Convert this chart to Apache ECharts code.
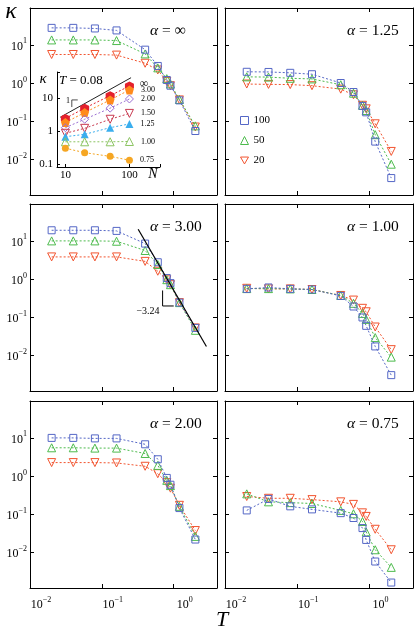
<!DOCTYPE html>
<html>
<head>
<meta charset="utf-8">
<script src="https://cdn.jsdelivr.net/npm/echarts@6/dist/echarts.min.js"></script>
<style>
html, body { margin: 0; padding: 0; background: #fff; }
#chart { width: 415px; height: 631px; }
</style>
</head>
<body>
<div id="chart"></div>
<script>
// temperatures shared by all panels
var temps = [0.02, 0.04, 0.08, 0.16, 0.4, 0.6, 0.8, 0.9, 1.2, 2.0];
var sizeNames = ['100', '50', '20'];
var alphaNames = ['\u221e', '1.25', '3.00', '1.00', '2.00', '0.75'];

// kappa for N = 100, 50, 20 in each panel
var infN100 = [28, 28, 27, 24, 7.5, 2.8, 1.2, 0.85, 0.35, 0.055];
var infN50  = [13.5, 13.5, 13.5, 13, 5.8, 2.5, 1.3, 0.95, 0.37, 0.075];
var infN20  = [5.6, 5.6, 5.6, 5.4, 3.3, 2.2, 1.1, 0.85, 0.36, 0.07];

var a125N100 = [1.97, 1.95, 1.85, 1.7, 1.0, 0.58, 0.25, 0.17, 0.029, 0.0032];
var a125N50  = [1.45, 1.43, 1.33, 1.28, 0.9, 0.54, 0.26, 0.19, 0.044, 0.0074];
var a125N20  = [0.94, 0.92, 0.91, 0.85, 0.69, 0.49, 0.26, 0.21, 0.085, 0.016];

var a300N100 = [19, 19, 19, 18.3, 8.5, 2.75, 1.06, 0.78, 0.24, 0.052];
var a300N50  = [10, 10, 10, 9.8, 5.6, 2.4, 0.96, 0.71, 0.24, 0.045];
var a300N20  = [3.8, 3.8, 3.8, 3.8, 2.9, 1.6, 0.95, 0.71, 0.24, 0.052];

var a100N100 = [0.55, 0.6, 0.55, 0.53, 0.36, 0.19, 0.098, 0.059, 0.017, 0.003];
var a100N50  = [0.56, 0.56, 0.55, 0.53, 0.37, 0.23, 0.125, 0.087, 0.029, 0.0089];
var a100N20  = [0.57, 0.55, 0.55, 0.53, 0.37, 0.28, 0.17, 0.138, 0.055, 0.014];

var a200N100 = [10, 10, 9.7, 9.7, 6.8, 2.75, 0.89, 0.59, 0.144, 0.0215];
var a200N50  = [5.5, 5.5, 5.4, 5.4, 3.9, 1.9, 0.77, 0.56, 0.16, 0.026];
var a200N20  = [2.25, 2.25, 2.25, 2.2, 1.8, 1.15, 0.67, 0.48, 0.17, 0.037];

var a075N100 = [0.125, 0.25, 0.16, 0.133, 0.106, 0.079, 0.043, 0.021, 0.0057, 0.0016];
var a075N50  = [0.34, 0.21, 0.2, 0.19, 0.125, 0.102, 0.064, 0.034, 0.0116, 0.004];
var a075N20  = [0.29, 0.26, 0.26, 0.24, 0.21, 0.18, 0.108, 0.087, 0.04, 0.0116];

// fitted slope in the alpha = 3.00 panel
var fitLine = [[0.32, 20.3], [2.85, 0.017]];
var fitMark = [[0.70, 0.50], [0.70, 0.196], [1.0, 0.196]];

// inset: kappa vs N at T = 0.08
var insetN = [10, 20, 50, 100];
var insetNames = ['\u221e', '3.00', '2.00', '1.50', '1.25', '1.00', '0.75'];
var kInf = [2.4, 4.9, 11.7, 23];
var k300 = [1.8, 3.6, 8.7, 17.5];
var k200 = [1.26, 2.26, 4.9, 9.3];
var k150 = [0.85, 1.2, 2.26, 3.4];
var k125 = [0.67, 0.79, 1.26, 1.63];
var k100 = [0.47, 0.47, 0.47, 0.48];
var k075 = [0.3, 0.22, 0.17, 0.13];
var insetSlope = [[8.3, 2.6], [106, 41]];
var insetMark = [[15.6, 8.7], [12.6, 8.7], [12.6, 5.3]];

var chart = echarts.init(document.getElementById('chart'));

var serif = 'Liberation Serif';
var colors = ['#5567c6', '#4dbb4d', '#f2542f'];
var downTri = 'path://M0,0L10,0L5,8.66Z';
var symbols = ['rect', 'triangle', downTri];
var symSizes = [7, 8, 8];

var panels = [
    [infN100, infN50, infN20],
    [a125N100, a125N50, a125N20],
    [a300N100, a300N50, a300N20],
    [a100N100, a100N50, a100N20],
    [a200N100, a200N50, a200N20],
    [a075N100, a075N50, a075N20]
];

var colLeft = [30, 225], colWidth = [187, 188];
var rowTop = [8, 204, 401], rowHeight = 187;

function powLabel(v) {
    var e = Math.log(v) / Math.LN10;
    var r = Math.round(e);
    if (Math.abs(e - r) > 0.01) return '';
    return '{b|10}{s|' + (r < 0 ? '\u2212' + (-r) : r) + '}';
}
var powRich = {
    b: { fontFamily: serif, fontSize: 12, color: '#000', lineHeight: 15, verticalAlign: 'bottom' },
    s: { fontFamily: serif, fontSize: 8, color: '#000', lineHeight: 9, verticalAlign: 'top' }
};

var grids = [], xAxes = [], yAxes = [], series = [], titles = [];

function axisBase(gi) {
    return {
        type: 'log', logBase: 10, gridIndex: gi,
        axisLine: { show: true, lineStyle: { color: '#000', width: 1 } },
        axisTick: { show: true, inside: true, length: 4, lineStyle: { color: '#000', width: 1 } },
        minorTick: { show: false },
        splitLine: { show: false },
        axisLabel: { show: false }
    };
}

panels.forEach(function (sets, i) {
    var row = Math.floor(i / 2), col = i % 2;
    grids.push({ left: colLeft[col], top: rowTop[row], width: colWidth[col], height: rowHeight, outerBoundsMode: 'none' });

    var xb = axisBase(i);
    xb.min = 0.01; xb.max = 4; xb.position = 'bottom';
    if (row === 2) {
        xb.axisLabel = { show: true, margin: 8, formatter: powLabel, rich: powRich, padding: [0, 0, 0, 22],
            showMinLabel: true, showMaxLabel: true };
    }
    var xt = axisBase(i);
    xt.min = 0.01; xt.max = 4; xt.position = 'top';
    xAxes.push(xb, xt);

    var yl = axisBase(i);
    yl.min = 0.00115; yl.max = 93; yl.position = 'left';
    if (col === 0) {
        yl.axisLabel = { show: true, margin: 3, formatter: powLabel, rich: powRich, showMinLabel: true, showMaxLabel: true };
    }
    var yr = axisBase(i);
    yr.min = 0.00115; yr.max = 93; yr.position = 'right';
    yAxes.push(yl, yr);

    sets.forEach(function (vals, s) {
        series.push({
            name: sizeNames[s], type: 'line', xAxisIndex: 2 * i, yAxisIndex: 2 * i,
            data: temps.map(function (t, k) { return [t, vals[k]]; }),
            symbol: symbols[s], symbolSize: symSizes[s],
            itemStyle: { color: 'rgba(255,255,255,0)', borderColor: colors[s], borderWidth: 1 },
            lineStyle: { color: colors[s], width: 1, type: [2, 2] },
            emphasis: { disabled: true }, z: 3 - s
        });
    });

    titles.push({
        text: '{i|\u03b1} = ' + alphaNames[i],
        left: col === 0 ? 150 : 347, top: rowTop[row] + 15, padding: 0,
        textStyle: { fontFamily: serif, fontSize: 15.5, fontWeight: 'normal', color: '#000',
            rich: { i: { fontFamily: serif, fontStyle: 'italic', fontSize: 15.5, color: '#000' } } }
    });
});

// fit line with slope mark in alpha = 3.00
series.push({ type: 'line', xAxisIndex: 4, yAxisIndex: 4, data: fitLine, symbol: 'none',
    lineStyle: { color: '#000', width: 1.2 }, z: 5 });
series.push({ type: 'line', xAxisIndex: 4, yAxisIndex: 4, data: fitMark, symbol: 'none',
    lineStyle: { color: '#000', width: 1 }, z: 5 });

// inset grid
var gi = 6;
grids.push({ left: 57, top: 72, width: 103, height: 95, outerBoundsMode: 'none' });
var ix = axisBase(gi);
ix.min = 7.4; ix.max = 300; ix.position = 'bottom';
ix.axisTick.length = 3;
ix.axisLabel = { show: true, margin: 3, fontFamily: serif, fontSize: 11, color: '#000',
    formatter: function (v) { var e = Math.log(v) / Math.LN10; return Math.abs(e - Math.round(e)) < 0.01 ? String(Math.round(v)) : ''; } };
xAxes.push(ix);
var iy = axisBase(gi);
iy.min = 0.081; iy.max = 61; iy.position = 'left';
iy.axisTick.length = 3;
iy.axisLabel = { show: true, margin: 4, fontFamily: serif, fontSize: 11, color: '#000',
    formatter: function (v) { var e = Math.log(v) / Math.LN10; var r = Math.round(e);
        if (Math.abs(e - r) > 0.01) return ''; return r < 0 ? '0.1' : String(Math.round(v)); } };
yAxes.push(iy);

var insetSets = [kInf, k300, k200, k150, k125, k100, k075];
var insetColors = ['#e4202c', '#ff8a1c', '#9b6fd3', '#c83a50', '#3aaeee', '#8cc462', '#f5a623'];
var insetSymbols = [
    'path://M5,0L9.33,2.5L9.33,7.5L5,10L0.67,7.5L0.67,2.5Z',
    'path://M5,0L9.76,3.45L7.94,9.05L2.06,9.05L0.24,3.45Z',
    'diamond', downTri, 'triangle', 'triangle', 'circle'
];
var insetFilled = [true, true, false, false, true, false, true];
var insetSizes = [9, 9, 8, 8, 8, 8, 7];
insetSets.forEach(function (vals, s) {
    var data = insetN.map(function (n, k) {
        var item = { value: [n, vals[k]] };
        if (k === insetN.length - 1 && s > 0) {
            item.label = { show: true, position: 'right', distance: 7, formatter: insetNames[s],
                fontFamily: serif, fontSize: 8, color: '#000' };
        }
        return item;
    });
    series.push({
        name: 'a' + s, type: 'line', xAxisIndex: xAxes.length - 1, yAxisIndex: yAxes.length - 1,
        data: data, symbol: insetSymbols[s], symbolSize: insetSizes[s],
        itemStyle: insetFilled[s] ? { color: insetColors[s], borderWidth: 0 } :
            { color: 'rgba(255,255,255,0)', borderColor: insetColors[s], borderWidth: 1 },
        lineStyle: { color: insetColors[s], width: 1, type: [2, 2] },
        emphasis: { disabled: true }, z: 4
    });
});
series.push({ type: 'line', xAxisIndex: xAxes.length - 1, yAxisIndex: yAxes.length - 1, data: insetSlope,
    symbol: 'none', lineStyle: { color: '#222', width: 1 } });
series.push({ type: 'line', xAxisIndex: xAxes.length - 1, yAxisIndex: yAxes.length - 1, data: insetMark,
    symbol: 'none', lineStyle: { color: '#222', width: 0.8 } });

function txt(x, y, text, size, italic, align) {
    return { type: 'text', x: x, y: y, silent: true, z: 10,
        style: { text: text, fontFamily: serif, fontSize: size, fontStyle: italic ? 'italic' : 'normal',
            fill: '#000', align: align || 'center', verticalAlign: 'middle' } };
}

var option = {
    animation: false,
    backgroundColor: '#fff',
    title: titles,
    legend: {
        data: [
            { name: '100', icon: 'rect', itemStyle: { color: 'rgba(255,255,255,0)', borderColor: colors[0], borderWidth: 1 } },
            { name: '50', icon: 'triangle', itemStyle: { color: 'rgba(255,255,255,0)', borderColor: colors[1], borderWidth: 1 } },
            { name: '20', icon: downTri, itemStyle: { color: 'rgba(255,255,255,0)', borderColor: colors[2], borderWidth: 1 } }
        ],
        orient: 'vertical', left: 240, top: 115, padding: 0,
        itemWidth: 8, itemHeight: 8, itemGap: 9, selectedMode: false,
        textStyle: { fontFamily: serif, fontSize: 11, color: '#000' }
    },
    grid: grids,
    xAxis: xAxes,
    yAxis: yAxes,
    series: series,
    graphic: [
        txt(11, 12, '\u03ba', 24, true),
        txt(222, 620, 'T', 22, true),
        txt(148, 311, '\u22123.24', 10, false),
        txt(43, 79, '\u03ba', 15, true),
        txt(153, 174, 'N', 14, true),
        txt(59, 81, '{i|T} = 0.08', 13, false, 'left'),
        txt(68, 101, '1', 8, false),
        txt(144, 84, insetNames[0], 12, false)
    ]
};
option.graphic[5].style.rich = { i: { fontFamily: serif, fontStyle: 'italic', fontSize: 13, fill: '#000' } };

chart.setOption(option);
</script>
</body>
</html>
